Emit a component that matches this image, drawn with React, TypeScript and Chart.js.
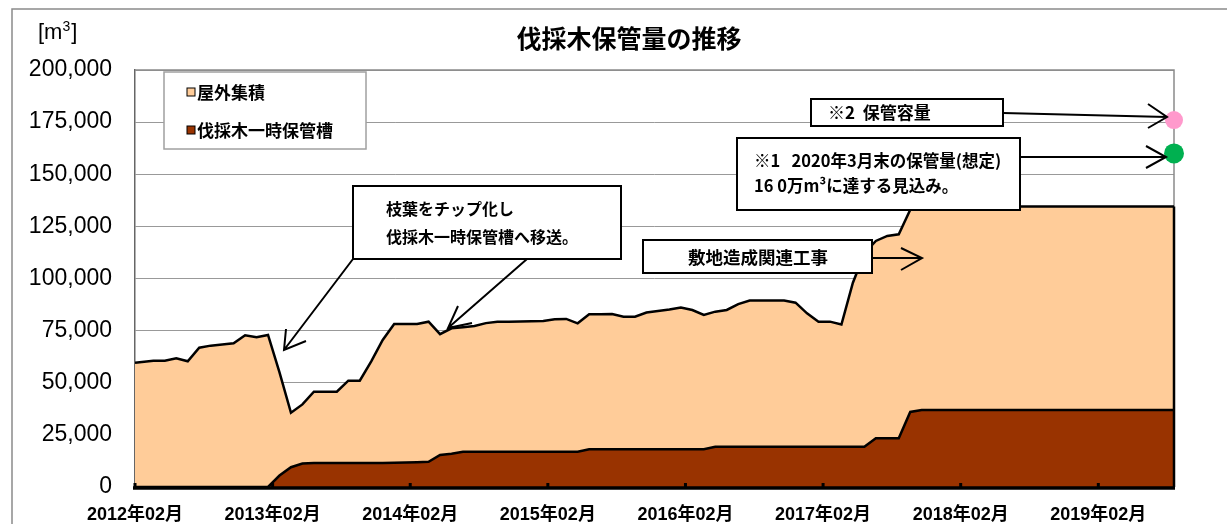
import React, { useEffect, useRef } from 'react';
import { Chart, registerables } from 'chart.js';

Chart.register(...registerables);

// Monthly records, 2012年02月 .. 2019年08月 (index 0 .. 90)
const tank: number[] = [
  0, 0, 0, 0, 0, 0, 0, 0, 0, 0, 0, 0,
  5500, 9500, 11300, 11500, 11500, 11500, 11500, 11500, 11500, 11500,
  11600, 11700, 11900, 12100, 15400, 16000,
  16900, 16900, 16900, 16900, 16900, 16900, 16900, 16900, 16900, 16900, 16900,
  18100, 18100, 18100, 18100, 18100, 18100, 18100, 18100, 18100, 18100, 18100,
  19300, 19300, 19300, 19300, 19300, 19300, 19300, 19300, 19300, 19300, 19300, 19300, 19300, 19300,
  23400, 23400, 23400, 36000,
  36900, 36900, 36900, 36900, 36900, 36900, 36900, 36900, 36900, 36900, 36900, 36900,
  36900, 36900, 36900, 36900, 36900, 36900, 36900, 36900, 36900, 36900, 36900,
];

const outdoor: number[] = [
  59600, 60500, 60600, 61700, 60300, 66800, 67800, 68300, 68900, 72800, 71800, 72900,
  49500, 26100, 28300, 34200, 34200, 34200, 39500, 39500, 48800, 59000,
  66600, 66500, 66300, 67200, 57900, 60100, 59700, 60300, 61700, 62300,
  62400, 62500, 62600, 62700, 63600, 63700, 61600, 64700, 64800, 64900,
  63600, 63600, 65600, 66300, 67000, 68000, 66800, 64400, 64800, 65600,
  68400, 70100, 70100, 70100, 70100, 69100, 64000, 60000, 60000, 58600,
  78700, 92700, 94600, 97000, 97800, 97000,
  97600, 97600, 97600, 97600, 97600, 97600, 97600, 97600, 97600, 97600, 97600, 97600,
  97600, 97600, 97600, 97600, 97600, 97600, 97600, 97600, 97600, 97600, 97600,
];

const tickMonths: number[] = [0, 12, 24, 36, 48, 60, 72, 84];
const tickLabels: string[] = [
  '2012年02月', '2013年02月', '2014年02月', '2015年02月',
  '2016年02月', '2017年02月', '2018年02月', '2019年02月',
];
const yTicks: number[] = [0, 25000, 50000, 75000, 100000, 125000, 150000, 175000, 200000];

const forecast2020 = 160000; // ※1
const capacity = 176000; // ※2

const seriesNames = ['屋外集積', '伐採木一時保管槽'];

const PEACH = '#FFCC99';
const BROWN = '#993300';
const JP = '"Noto Sans CJK JP", sans-serif';
const NUM = '"Liberation Sans", "Noto Sans CJK JP", sans-serif';

// records are plotted late in their month; the first record opens the axis
const xOf = (i: number) => (i === 0 ? 0 : i + 0.6);
const X_MAX = xOf(outdoor.length - 1);

function arrow(ctx: CanvasRenderingContext2D, x0: number, y0: number, x1: number, y1: number, a1: [number, number], a2: [number, number]) {
  ctx.beginPath();
  ctx.moveTo(x0, y0);
  ctx.lineTo(x1, y1);
  ctx.moveTo(a1[0], a1[1]);
  ctx.lineTo(x1, y1);
  ctx.lineTo(a2[0], a2[1]);
  ctx.stroke();
}

function box(ctx: CanvasRenderingContext2D, x: number, y: number, w: number, h: number) {
  ctx.fillStyle = '#fff';
  ctx.fillRect(x, y, w, h);
  ctx.strokeRect(x, y, w, h);
}

const overlay = {
  id: 'overlay',
  beforeDatasetsDraw(chart: any) {
    const { ctx, chartArea: a } = chart;
    ctx.save();
    ctx.strokeStyle = '#8a8a8a';
    ctx.lineWidth = 1.5;
    ctx.beginPath();
    ctx.moveTo(a.left, a.top);
    ctx.lineTo(a.right, a.top);
    ctx.lineTo(a.right, a.bottom);
    ctx.stroke();
    ctx.restore();
  },
  afterDatasetsDraw(chart: any) {
    const { ctx, chartArea: a } = chart;
    const xs = chart.scales.x;
    const meta = chart.getDatasetMeta(1);
    const lastPt = meta.data[meta.data.length - 1];
    ctx.save();
    // right edge of the stacked area
    ctx.strokeStyle = '#000';
    ctx.lineWidth = 2.5;
    ctx.beginPath();
    ctx.moveTo(lastPt.x, lastPt.y);
    ctx.lineTo(lastPt.x, a.bottom);
    ctx.stroke();
    // x axis line
    ctx.lineWidth = 3.5;
    ctx.beginPath();
    ctx.moveTo(a.left - 2, a.bottom + 1);
    ctx.lineTo(a.right + 1, a.bottom + 1);
    ctx.stroke();
    // tick marks
    ctx.fillStyle = '#000';
    tickMonths.forEach((m) => {
      const px = xs.getPixelForValue(m);
      ctx.fillRect(px - 1.5, a.bottom - 4, 3, 5);
    });
    ctx.restore();
  },
  afterDraw(chart: any) {
    const { ctx } = chart;
    ctx.save();
    // outer frame
    ctx.strokeStyle = '#8a8a8a';
    ctx.lineWidth = 1.5;
    ctx.strokeRect(12, 9, 1400, 700);

    // title
    ctx.fillStyle = '#000';
    ctx.textBaseline = 'middle';
    ctx.textAlign = 'center';
    ctx.font = `bold 25px ${JP}`;
    ctx.fillText('伐採木保管量の推移', 629, 38);

    // unit
    ctx.textAlign = 'left';
    ctx.font = `22px ${NUM}`;
    ctx.fillText('[m', 38, 33);
    const wm = ctx.measureText('[m').width;
    ctx.font = `14px ${NUM}`;
    ctx.fillText('3', 38 + wm, 27);
    const w3 = ctx.measureText('3').width;
    ctx.font = `22px ${NUM}`;
    ctx.fillText(']', 38 + wm + w3 + 1, 33);

    // legend
    ctx.strokeStyle = '#a0a0a0';
    ctx.lineWidth = 1.5;
    box(ctx, 164, 72, 202, 77);
    const legendRows: [string, string, number][] = [
      [seriesNames[0], PEACH, 92],
      [seriesNames[1], BROWN, 130],
    ];
    legendRows.forEach(([name, col, y]) => {
      ctx.fillStyle = col;
      ctx.fillRect(187, y - 4, 8, 8);
      ctx.strokeStyle = '#000';
      ctx.lineWidth = 1;
      ctx.strokeRect(187, y - 4, 8, 8);
      ctx.fillStyle = '#000';
      ctx.font = `bold 17px ${JP}`;
      ctx.fillText(name, 197, y + 1);
    });

    // annotation boxes
    ctx.strokeStyle = '#000';
    ctx.lineWidth = 2;
    box(ctx, 353, 186, 268, 73);
    box(ctx, 643, 240, 229, 33);
    box(ctx, 737, 138, 283, 72);
    box(ctx, 811, 99, 192, 27);

    ctx.fillStyle = '#000';
    ctx.font = `bold 16px ${JP}`;
    ctx.fillText('枝葉をチップ化し', 386, 209);
    ctx.fillText('伐採木一時保管槽へ移送。', 386, 237);

    ctx.textAlign = 'center';
    ctx.font = `bold 17.5px ${JP}`;
    ctx.fillText('敷地造成関連工事', 758, 257);

    ctx.textAlign = 'left';
    ctx.font = `bold 16.5px ${JP}`;
    ctx.fillText('※1   2020年3月末の保管量(想定)', 754, 161);
    ctx.fillText('16 0万m³に達する見込み。', 754, 186);

    ctx.font = `bold 17px ${JP}`;
    ctx.fillText('※2  保管容量', 828, 113);

    // arrows
    ctx.lineWidth = 2;
    arrow(ctx, 353, 259, 284, 350, [286, 329], [306, 341]);
    arrow(ctx, 527, 259, 448, 328, [458, 306], [472, 323]);
    arrow(ctx, 872, 258, 922, 258, [901, 248], [901, 270]);
    arrow(ctx, 1020, 157, 1166, 157, [1146, 146], [1146, 168]);
    arrow(ctx, 1003, 113, 1167, 117, [1148, 104], [1148, 128]);
    ctx.restore();
  },
};

export default function App() {
  const ref = useRef<HTMLCanvasElement>(null);

  useEffect(() => {
    document.body.style.margin = '0';
    const canvas = ref.current!;
    const chart = new Chart(canvas, {
      type: 'line',
      data: {
        datasets: [
          {
            label: seriesNames[1],
            data: tank.map((v, i) => ({ x: xOf(i), y: v })),
            backgroundColor: BROWN,
            borderColor: '#000',
            borderWidth: 2.5,
            fill: 'origin',
            pointRadius: 0,
            tension: 0,
            stack: 'area',
          },
          {
            label: seriesNames[0],
            data: outdoor.map((v, i) => ({ x: xOf(i), y: v })),
            backgroundColor: PEACH,
            borderColor: '#000',
            borderWidth: 2.5,
            fill: '-1',
            pointRadius: 0,
            tension: 0,
            stack: 'area',
          },
          {
            label: '※1',
            data: [{ x: X_MAX, y: forecast2020 }],
            showLine: false,
            pointRadius: 10,
            pointBackgroundColor: '#00B050',
            pointBorderWidth: 0,
            borderColor: '#00B050',
            stack: 'f',
            clip: false,
          } as any,
          {
            label: '※2',
            data: [{ x: X_MAX, y: capacity }],
            showLine: false,
            pointRadius: 9,
            pointBackgroundColor: '#FF99CC',
            pointBorderWidth: 0,
            borderColor: '#FF99CC',
            stack: 'c',
            clip: false,
          } as any,
        ],
      },
      options: {
        responsive: false,
        animation: false,
        devicePixelRatio: 1,
        layout: { padding: { top: 70, right: 53, left: 0, bottom: 0 } },
        plugins: {
          legend: { display: false },
          tooltip: { enabled: false },
          title: { display: false },
        },
        scales: {
          x: {
            type: 'linear',
            min: 0,
            max: X_MAX,
            afterBuildTicks: (s: any) => {
              s.ticks = tickMonths.map((v) => ({ value: v }));
            },
            afterFit: (s: any) => {
              s.height = 37;
            },
            grid: { display: false },
            border: { display: false },
            ticks: {
              autoSkip: false,
              maxRotation: 0,
              padding: 9,
              color: '#000',
              font: { family: NUM, size: 18, weight: 'bold' },
              callback: (v: any) => tickLabels[tickMonths.indexOf(Number(v))] ?? '',
            },
          },
          y: {
            stacked: true,
            min: 0,
            max: 200000,
            afterBuildTicks: (s: any) => {
              s.ticks = yTicks.map((v) => ({ value: v }));
            },
            afterFit: (s: any) => {
              s.width = 135;
            },
            grid: { color: '#999', lineWidth: 1, drawTicks: false },
            border: { color: '#666', width: 1.5 },
            ticks: {
              padding: 23,
              color: '#000',
              font: { family: NUM, size: 23 },
              callback: (v: any) => Number(v).toLocaleString('en-US'),
            },
          },
        },
      },
      plugins: [overlay],
    } as any);
    return () => chart.destroy();
  }, []);

  return <canvas ref={ref} width={1227} height={524} style={{ display: 'block' }} />;
}
